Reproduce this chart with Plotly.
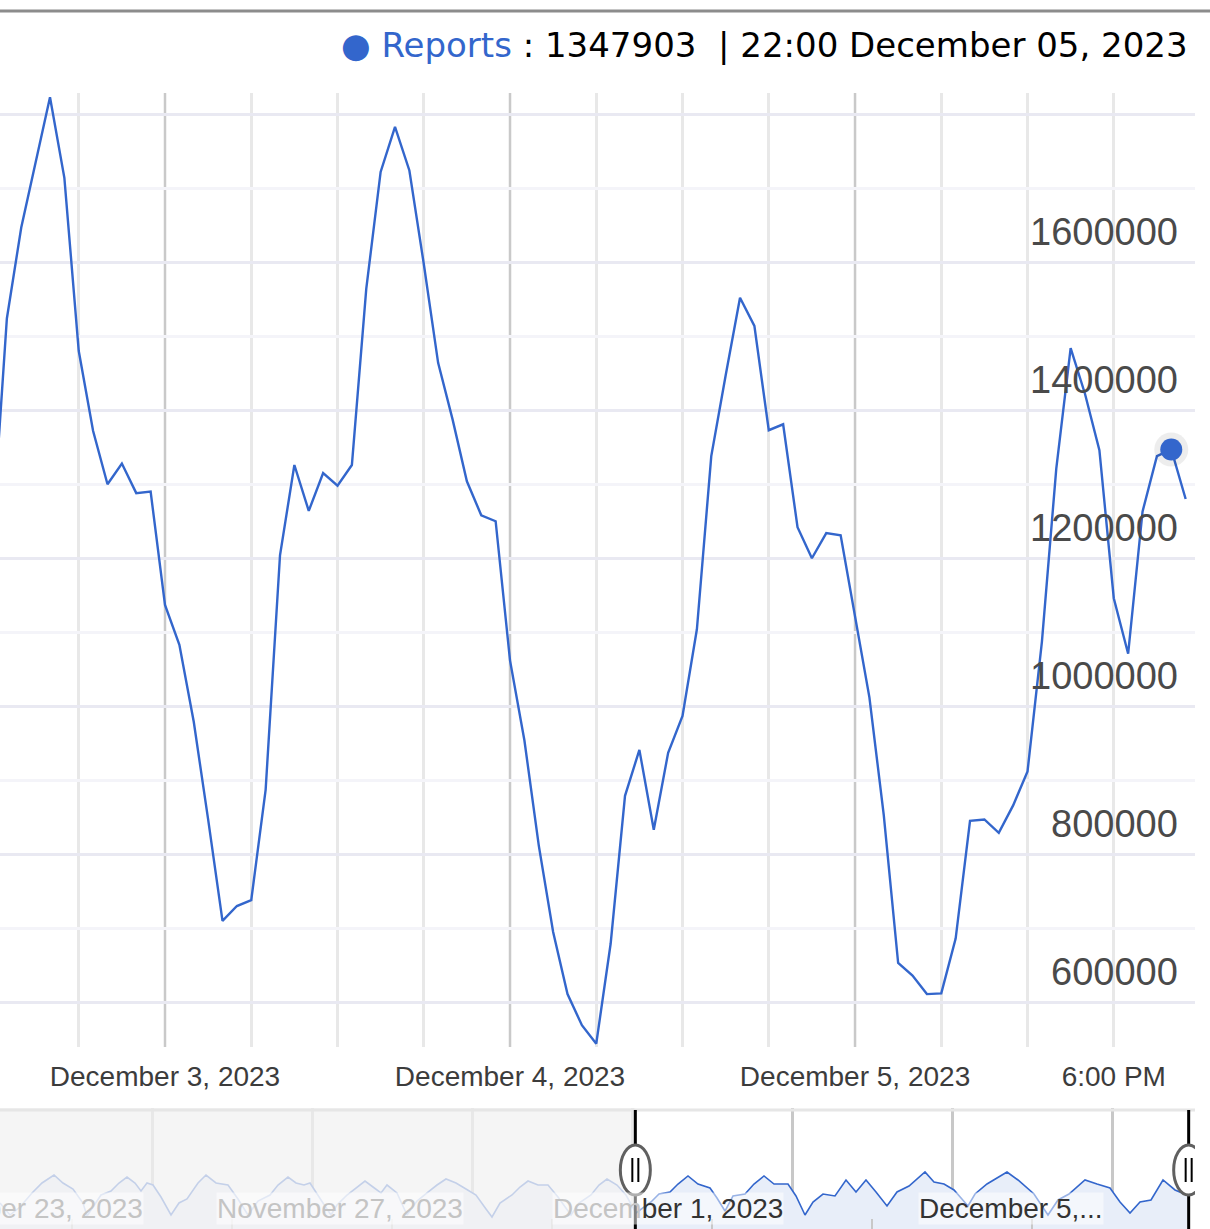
import pandas as pd
import plotly.graph_objects as go

# hourly report counts, 2 Dec 12:00 -> 5 Dec 23:00
first_hour = "2023-12-02 12:00"
reports = [
    1235000, 1525000, 1648000, 1737000, 1824000, 1715000, 1481000, 1373000, 1301000, 1329000, 1289000, 1291000,
    1138000, 1084000, 980000, 848000, 711000, 731000, 739000, 888000, 1205000, 1327000, 1265000, 1316000,
    1299000, 1327000, 1565000, 1723000, 1784000, 1725000, 1599000, 1465000, 1389000, 1305000, 1259000, 1251000,
    1063000, 955000, 813000, 696000, 612000, 570000, 545000, 680000, 880000, 942000, 834000, 938000,
    988000, 1105000, 1339000, 1448000, 1553000, 1515000, 1374000, 1382000, 1243000, 1201000, 1235000, 1232000,
    1122000, 1013000, 854000, 654000, 637000, 612000, 613000, 687000, 846000, 848000, 830000, 867000,
    913000, 1088000, 1322000, 1485000, 1423000, 1347000, 1147000, 1072000, 1264000, 1339000, 1347903, 1281000,
]
focus_time = "2023-12-05 22:00"

# overview strip: hours after 21 Nov 00:00 and counts
nav_origin = "2023-11-21"
nav_hours = [
    2.4, 5.4, 8.4, 12.0, 15.0, 18.6, 21.3, 24.3, 27.3, 28.5,
    32.7, 35.7, 38.1, 40.5, 42.9, 44.7, 46.5, 48.3, 50.7, 53.7,
    56.1, 58.5, 61.8, 64.2, 67.2, 70.8, 73.8, 76.8, 79.8, 83.4,
    85.8, 88.8, 91.2, 93.6, 95.4, 96.9, 99.3, 101.7, 103.5, 106.5,
    109.5, 111.9, 114.3, 116.7, 118.5, 121.5, 124.5, 127.5, 130.5, 133.5,
    136.2, 139.2, 142.2, 145.2, 148.2, 150.0, 152.4, 156.0, 158.4, 160.8,
    163.8, 166.8, 169.8, 173.7, 176.1, 179.7, 182.1, 184.5, 187.5, 190.2,
    193.2, 197.7, 200.1, 203.4, 205.8, 208.8, 211.8, 215.4, 217.5, 219.9,
    222.3, 225.9, 228.6, 231.6, 234.6, 238.8, 241.2, 243.9, 246.3, 249.3,
    252.9, 256.2, 259.2, 262.2, 265.2, 268.5, 271.5, 275.1, 279.9, 282.6,
    285.6, 288.6, 292.8, 294.9, 298.5, 304.5, 307.8, 312.6, 316.8, 319.8,
    323.1, 327.9, 331.5, 335.4, 338.4, 341.4, 344.4, 347.7, 351.3, 354.9,
    358.5,
]
nav_reports = [
    952000, 600000, 834000, 1245000, 1538000, 1772000, 1538000, 1362000, 952000, 571000,
    1186000, 1303000, 1538000, 1713000, 1538000, 1303000, 1538000, 1479000, 1127000, 600000,
    952000, 1069000, 1538000, 1772000, 1538000, 1479000, 1069000, 600000, 1010000, 1186000,
    1479000, 1713000, 1538000, 1479000, 1538000, 1303000, 952000, 600000, 893000, 1186000,
    1420000, 1596000, 1420000, 1245000, 1479000, 1245000, 600000, 1010000, 1245000, 1479000,
    1655000, 1538000, 1362000, 1186000, 776000, 541000, 952000, 1186000, 1420000, 1596000,
    1479000, 1479000, 1127000, 600000, 952000, 1186000, 1479000, 1655000, 1479000, 1186000,
    659000, 981000, 1215000, 1274000, 1508000, 1743000, 1508000, 1391000, 1098000, 717000,
    1157000, 1215000, 1508000, 1743000, 1508000, 1508000, 1157000, 600000, 981000, 1215000,
    1157000, 1626000, 1274000, 1626000, 1274000, 864000, 1274000, 1450000, 1860000, 1567000,
    1508000, 1333000, 864000, 1215000, 1508000, 1860000, 1626000, 1215000, 600000, 1040000,
    1215000, 1626000, 1508000, 1391000, 981000, 659000, 981000, 1040000, 1626000, 1333000,
    1186000,
]

x_tick_vals = ["2023-12-03", "2023-12-04", "2023-12-05", "2023-12-05 18:00"]
x_tick_text = ["December 3, 2023", "December 4, 2023", "December 5, 2023", "6:00 PM"]
y_tick_vals = [600000, 800000, 1000000, 1200000, 1400000, 1600000, 1800000]
y_tick_text = ["600000", "800000", "1000000", "1200000", "1400000", "1600000", ""]

nav_label_dates = ["2023-11-23", "2023-11-27", "2023-12-01", "2023-12-05"]
nav_label_text = ["November 23, 2023", "November 27, 2023", "December 1, 2023", "December 5,..."]
nav_tick_vals = ["2023-11-22", "2023-11-24", "2023-11-26", "2023-11-28", "2023-11-30", "2023-12-02", "2023-12-04"]
window_start = "2023-11-29 01:00"

BLUE = "#3366cc"
FADED = "#c4c4c4"
W, H = 1210, 1229
main_range = ["2023-12-02 12:31:19", "2023-12-05 23:39"]
nav_range = ["2023-11-21 02:24", "2023-12-06 00:54"]

times = pd.date_range(first_hour, periods=len(reports), freq="h")
nav_times = pd.Timestamp(nav_origin) + pd.to_timedelta(nav_hours, unit="h")
focus = pd.Timestamp(focus_time)
focus_val = reports[list(times).index(focus)]
window_end = times[-1]

# gridlines every 6 h; midnights get a darker line
grid_times = pd.date_range("2023-12-02 18:00", main_range[1], freq="6h")
day_lines = [t for t in grid_times if t.hour == 0]
quarter_lines = [t for t in grid_times if t.hour != 0]


def py(px):
    return 1 - px / H


fig = go.Figure()

# main line + highlighted point
fig.add_trace(go.Scatter(x=times, y=reports, mode="lines", line=dict(color=BLUE, width=2.4),
                         hoverinfo="skip"))
fig.add_trace(go.Scatter(x=[focus], y=[focus_val], mode="markers",
                         marker=dict(size=34, color="rgba(0,0,0,0.07)"), hoverinfo="skip"))
fig.add_trace(go.Scatter(x=[focus], y=[focus_val], mode="markers",
                         marker=dict(size=22, color=BLUE), hoverinfo="skip"))

# overview strip
fig.add_trace(go.Scatter(x=nav_times, y=nav_reports, mode="lines", xaxis="x2", yaxis="y2",
                         line=dict(color=BLUE, width=1.6), fill="tozeroy", fillcolor="#e8eef9",
                         hoverinfo="skip"))

for d in day_lines:
    fig.add_shape(type="line", xref="x", yref="paper", x0=d, x1=d, y0=py(1047), y1=py(93),
                  line=dict(color="#c9c9c9", width=2.5), layer="below")

tick_font = dict(family="Liberation Sans, Arial", size=28, color="#3c3c3c")

fig.update_layout(
    width=W, height=H,
    margin=dict(l=0, r=0, t=0, b=0),
    paper_bgcolor="white", plot_bgcolor="rgba(0,0,0,0)",
    showlegend=False,
    xaxis=dict(
        domain=[0, 1195 / W], anchor="y", type="date", range=main_range,
        tickvals=x_tick_vals, ticktext=x_tick_text, tickfont=tick_font,
        showgrid=False, zeroline=False, ticks="", ticklabelstandoff=10,
        minor=dict(tickmode="array", tickvals=quarter_lines, showgrid=True,
                   gridcolor="#e8e8e8", gridwidth=2.5),
    ),
    yaxis=dict(
        domain=[py(1047), py(93)], anchor="x", side="right",
        range=[540500, 1829700],
        tickvals=y_tick_vals, showticklabels=False,
        showgrid=True, gridcolor="#e9e9f2", gridwidth=2.5, zeroline=False, ticks="",
        minor=dict(dtick=100000, tick0=0, showgrid=True, gridcolor="#f4f4f9", gridwidth=2.5),
    ),
    xaxis2=dict(
        domain=[0, 1195 / W], anchor="y2", type="date", range=nav_range,
        tickvals=nav_tick_vals, showticklabels=False, ticks="inside", ticklen=10,
        tickcolor="#c8c8c8", tickwidth=2, showgrid=False, zeroline=False,
        minor=dict(dtick=2 * 86400000, tick0="2023-11-23", showgrid=True,
                   gridcolor="#c8c8c8", gridwidth=2.5),
    ),
    yaxis2=dict(domain=[0, py(1108)], anchor="x2", range=[189800, 3735000], visible=False),
)

# y labels sit inside the plot, just above their gridline
for v, t in zip(y_tick_vals, y_tick_text):
    if t:
        fig.add_annotation(x=1195 / W, xref="paper", y=v, yref="y", text=t, showarrow=False,
                           xanchor="right", yanchor="middle", xshift=-15, yshift=31,
                           font=dict(family="Liberation Sans, Arial", size=38, color="#4a4a4a"))

# unselected part of the overview strip is washed out
fig.add_shape(type="rect", xref="x2", yref="paper", x0=nav_range[0], x1=window_start,
              y0=0, y1=py(1108), fillcolor="rgba(242,242,242,0.76)", line_width=0, layer="above")
# border lines
fig.add_shape(type="line", xref="paper", yref="paper", x0=0, x1=1, y0=py(11), y1=py(11),
              line=dict(color="#8c8c8c", width=3))
fig.add_shape(type="line", xref="paper", yref="paper", x0=0, x1=1195 / W, y0=py(1110), y1=py(1110),
              line=dict(color="#e6e6e6", width=3))

# range handles
for t in [window_start, window_end]:
    fig.add_shape(type="line", xref="x2", yref="paper", x0=t, x1=t, y0=0, y1=py(1110),
                  line=dict(color="black", width=3))
    fig.add_shape(type="circle", xref="x2", yref="paper", xsizemode="pixel", ysizemode="pixel",
                  xanchor=t, yanchor=py(1170), x0=-15, x1=15, y0=-25, y1=25,
                  fillcolor="white", line=dict(color="#606060", width=3))
    for dx in (-3, 3):
        fig.add_shape(type="line", xref="x2", yref="paper", xsizemode="pixel", ysizemode="pixel",
                      xanchor=t, yanchor=py(1170), x0=dx, x1=dx, y0=-12, y1=12,
                      line=dict(color="black", width=2))

# overview date labels
for d, txt in zip(nav_label_dates, nav_label_text):
    ts = pd.Timestamp(d)
    color = FADED if ts < pd.Timestamp(window_start) else "#333333"
    if ts > pd.Timestamp(window_start) and ts - pd.Timestamp(window_start) < pd.Timedelta(days=3):
        txt = f"<span style='color:{FADED}'>{txt[:5]}</span>{txt[5:]}"
    fig.add_annotation(x=d, xref="x2", y=py(1208), yref="paper", text=txt, showarrow=False,
                       xanchor="right", yanchor="middle", xshift=-8,
                       font=dict(family="Liberation Sans, Arial", size=28, color=color),
                       bgcolor="rgba(255,255,255,0.5)", borderpad=0)

# value readout at the top
stamp = focus.strftime("%H:%M %B %d, %Y")
fig.add_annotation(
    x=1190 / W, y=py(45), xref="paper", yref="paper", xanchor="right", yanchor="middle",
    showarrow=False,
    text=f"<span style='color:{BLUE}'>● Reports</span> : {focus_val} &nbsp;| {stamp}",
    font=dict(family="DejaVu Sans", size=34, color="black"),
)

fig.write_html("out.html", config={"displayModeBar": False},
               post_script="document.body.style.margin='0';document.body.style.overflow='hidden';")
